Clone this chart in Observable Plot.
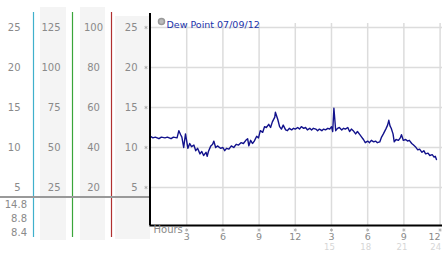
<!DOCTYPE html>
<html><head><meta charset="utf-8">
<script src="https://cdn.jsdelivr.net/npm/d3@7"></script>
<script src="https://cdn.jsdelivr.net/npm/@observablehq/plot@0.6"></script>
<style>
html,body{margin:0;padding:0;background:#fff;}
svg{display:block;}
</style>
</head><body>
<div id="chart"></div>
<script>
const title = "Dew Point 07/09/12";
const hours = [0.0,0.2,0.4,0.7,0.9,1.2,1.4,1.7,1.9,2.2,2.35,2.5,2.6,2.75,2.9,3.1,3.25,3.4,3.6,3.75,3.9,4.1,4.25,4.4,4.6,4.7,4.8,5.0,5.15,5.25,5.4,5.55,5.8,6.0,6.15,6.3,6.5,6.7,6.9,7.1,7.3,7.5,7.7,7.9,8.05,8.15,8.3,8.45,8.6,8.8,8.95,9.1,9.3,9.45,9.6,9.8,9.95,10.1,10.3,10.35,10.55,10.7,10.85,11.0,11.2,11.35,11.5,11.7,11.85,12.0,12.2,12.35,12.5,12.7,12.85,13.0,13.2,13.35,13.5,13.7,13.85,14.0,14.2,14.35,14.5,14.7,14.85,15.0,15.1,15.2,15.35,15.5,15.65,15.85,16.0,16.15,16.35,16.5,16.65,16.8,17.0,17.15,17.35,17.5,17.65,17.8,18.0,18.15,18.3,18.5,18.65,18.8,19.0,19.15,19.3,19.5,19.65,19.75,19.85,19.95,20.1,20.2,20.35,20.55,20.7,20.8,20.95,21.15,21.3,21.45,21.65,21.8,21.95,22.15,22.3,22.5,22.65,22.8,23.0,23.15,23.35,23.5,23.6,23.7];
const dewPoint = [11.4,11.2,11.3,11.1,11.3,11.2,11.3,11.1,11.3,11.2,12.1,11.6,11.3,10.0,11.7,9.9,10.5,10.1,10.3,9.6,9.9,9.2,9.5,9.0,9.4,8.9,9.5,10.2,10.4,10.8,10.0,10.2,9.9,10.0,9.6,9.9,9.8,10.2,10.0,10.4,10.3,10.6,10.5,10.9,11.1,10.2,10.9,10.5,10.8,11.4,11.2,12.1,11.9,12.6,12.5,12.9,12.5,13.2,13.8,14.4,13.5,12.6,12.3,12.8,12.2,12.1,12.4,12.2,12.4,12.3,12.5,12.3,12.6,12.4,12.5,12.2,12.4,12.2,12.4,12.3,12.1,12.3,12.1,12.3,12.2,12.4,12.3,12.6,12.0,14.9,12.1,12.4,12.5,12.2,12.4,12.3,12.5,12.0,12.3,12.1,11.7,12.0,11.6,11.3,11.0,10.6,10.8,10.6,10.9,10.7,10.8,10.6,10.7,11.3,11.7,12.3,12.8,13.4,12.7,12.4,11.7,10.7,11.0,10.9,11.2,11.6,10.9,11.0,10.8,10.9,10.5,10.3,10.1,9.7,9.8,9.4,9.6,9.2,9.3,9.0,9.1,8.8,8.9,8.5];
const yTicks = [5,10,15,20,25];
const axis1Labels = ["5","10","15","20","25"];
const axis2Labels = ["25","50","75","100","125"];
const axis3Labels = ["20","40","60","80","100"];
const xTicks = [3,6,9,12,15,18,21,24];
const xLabels = ["3","6","9","12","3","6","9","12"];
const x24Ticks = [15,18,21,24];
const x24Labels = ["15","18","21","24"];
const stats = ["14.8","8.8","8.4"];

const data = hours.map((h,i)=>({h, v: dewPoint[i]}));
const yRows = yTicks.map((v,i)=>({v, a1: axis1Labels[i], a2: axis2Labels[i], a3: axis3Labels[i]}));
const xRows = xTicks.map((t,i)=>({t, l: xLabels[i]}));
const x24Rows = x24Ticks.map((t,i)=>({t, l: x24Labels[i]}));
const gray = "#8a8a8a";

const plot = Plot.plot({
  width: 442, height: 253,
  marginLeft: 150, marginRight: 0, marginTop: 13, marginBottom: 28,
  x: {domain: [0, 24.2], axis: null},
  y: {domain: [0.25, 26.75], axis: null},
  style: {fontFamily: "DejaVu Sans", fontSize: "9px", background: "transparent", overflow: "visible"},
  marks: [
    Plot.ruleY(yTicks, {stroke: "#dcdcdc", strokeWidth: 1.5}),
    Plot.ruleX(xTicks, {y1: 0.25, y2: 25.5, stroke: "#dcdcdc", strokeWidth: 1.5}),
    Plot.line(data, {x: "h", y: "v", stroke: "#12128c", strokeWidth: 1.4}),
    Plot.ruleX([0], {stroke: "#000", strokeWidth: 2, dx: -0.5}),
    Plot.ruleY([0.25], {stroke: "#000", strokeWidth: 2, x1: -0.05, x2: 24.2}),
    // left panel tick labels
    Plot.text(yRows, {x: 0, y: "v", text: "a1", dx: -130, textAnchor: "end", fill: gray, fontSize: 10}),
    Plot.text(yRows, {x: 0, y: "v", text: "a2", dx: -90, textAnchor: "end", fill: gray, fontSize: 10}),
    Plot.text(yRows, {x: 0, y: "v", text: "a3", dx: -57, textAnchor: "middle", fill: gray, fontSize: 10}),
    Plot.text(yRows, {x: 0, y: "v", text: "a1", dx: -13, textAnchor: "end", fill: gray, fontSize: 10}),
    Plot.dot(yRows, {x: 0, y: "v", dx: -4.5, symbol: "asterisk", r: 1.6, stroke: "#aaa", strokeWidth: 0.8}),
    // x axis labels
    Plot.text(xRows.slice(0, 7), {x: "t", y: 0.25, text: "l", dy: 8, lineAnchor: "top", fill: gray, fontSize: 9.5}),
    Plot.text(xRows.slice(7), {x: "t", y: 0.25, text: "l", dy: 8, dx: 0.5, lineAnchor: "top", textAnchor: "end", fill: gray, fontSize: 9.5}),
    Plot.dot(xRows, {x: "t", y: 0.25, dy: 4.5, symbol: "asterisk", r: 1.6, stroke: "#aaa", strokeWidth: 0.8}),
    Plot.text(x24Rows.slice(0, 3), {x: "t", y: 0.25, text: "l", dy: 21.5, dx: -2, fill: "#d6d6d6", fontSize: 8.5}),
    Plot.text(x24Rows.slice(3), {x: "t", y: 0.25, text: "l", dy: 21.5, dx: 1, textAnchor: "end", fill: "#d6d6d6", fontSize: 8.5}),
    Plot.text(["Hours"], {frameAnchor: "bottom-left", dx: 3, dy: 7, textAnchor: "start", fill: gray, fontSize: 10}),
    // title
    Plot.dot([0], {frameAnchor: "top-left", dx: 11, dy: 8, r: 3, fill: "#bbb", stroke: "#999"}),
    Plot.text([title], {frameAnchor: "top-left", dx: 16, dy: 8, textAnchor: "start", fill: "#2233aa", fontSize: 9.5})
  ]
});

const svg = d3.select(plot);
// background panel decorations (behind everything)
const bg = svg.insert("g", ":first-child");
bg.append("rect").attr("x", 0).attr("y", 0).attr("width", 442).attr("height", 253).attr("fill", "#fff");
[[40, 7, 26, 233], [80, 7, 25, 233], [115, 16, 35, 223]].forEach(([x, yy, w, h]) => {
  bg.append("rect").attr("x", x).attr("y", yy).attr("width", w).attr("height", h).attr("fill", "#f4f4f4");
});
const fg = svg.append("g");
[["#3fb0cc", 33.5], ["#3aa53a", 72.5], ["#b03030", 111.5]].forEach(([c, x]) => {
  fg.append("line").attr("x1", x).attr("x2", x).attr("y1", 12).attr("y2", 237).attr("stroke", c).attr("stroke-width", 1.2);
});
fg.append("line").attr("x1", 0).attr("x2", 149).attr("y1", 197).attr("y2", 197).attr("stroke", "#999").attr("stroke-width", 2);
stats.forEach((s, i) => {
  fg.append("text").attr("x", 27).attr("y", 204 + i * 14).attr("dy", "0.35em").attr("text-anchor", "end")
    .attr("fill", gray).attr("font-size", 10).attr("font-family", "DejaVu Sans").text(s);
});
document.getElementById("chart").appendChild(plot);
</script>
</body></html>
